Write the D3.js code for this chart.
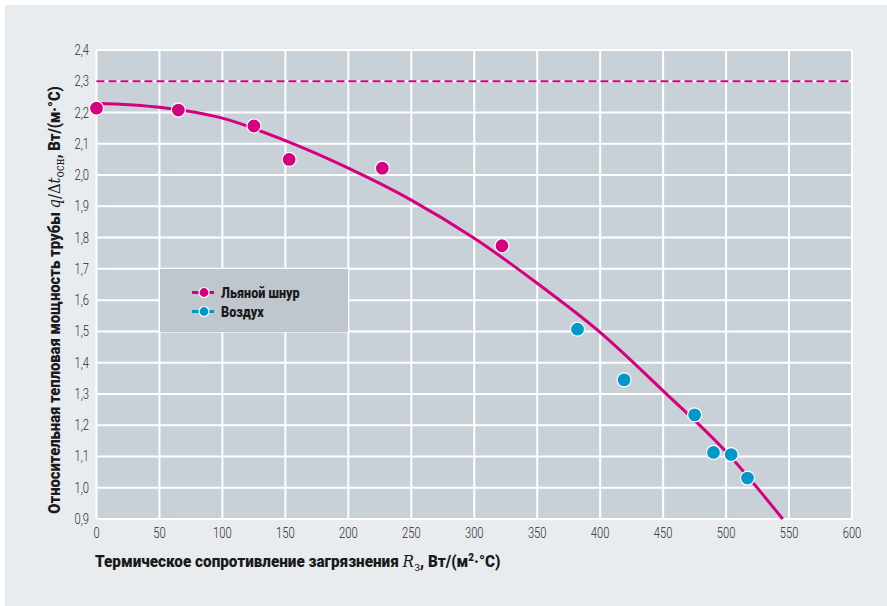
<!DOCTYPE html>
<html>
<head>
<meta charset="utf-8">
<script src="https://cdn.jsdelivr.net/npm/d3@7"></script>
<style>
  body { margin: 0; background: #fff; }
  .tick-label { font-family: Roboto, 'Noto Sans', sans-serif; font-weight: 300; font-size: 14px; fill: #2b2b2b; }
  .title { font-family: Roboto, 'Noto Sans', sans-serif; font-weight: 900; font-size: 17px; fill: #1a1a1a; }
  .legend-text { font-family: Roboto, 'Noto Sans', sans-serif; font-weight: 900; font-size: 15px; fill: #1a1a1a; }
</style>
</head>
<body>
<div class="container"></div>
<script>
// measured points: flax cord (pink) and air (blue)
const linenX = [0, 65, 125, 153, 227, 322];
const linenY = [2.214, 2.208, 2.157, 2.05, 2.022, 1.774];
const airX = [382, 419, 475, 490, 504, 517];
const airY = [1.507, 1.345, 1.233, 1.113, 1.106, 1.031];

// trend curve
const curveX = [0, 50, 100, 150, 200, 250, 300, 350, 400, 450, 500, 545];
const curveY = [2.23, 2.217, 2.182, 2.11, 2.022, 1.92, 1.798, 1.654, 1.497, 1.31, 1.115, 0.9];

const limitY = 2.3;

const xTicks = [0, 50, 100, 150, 200, 250, 300, 350, 400, 450, 500, 550, 600];
const yTicks = [0.9, 1.0, 1.1, 1.2, 1.3, 1.4, 1.5, 1.6, 1.7, 1.8, 1.9, 2.0, 2.1, 2.2, 2.3, 2.4];

const legendNames = ['Льяной шнур', 'Воздух'];

const pink = '#d6007f';
const blue = '#0098c9';

const width = 887;
const height = 606;
const plot = { left: 96.5, right: 852, top: 50, bottom: 519 };
const squeeze = 0.8; // fake a condensed face

const svg = d3
  .select('.container')
  .append('svg')
  .attr('width', width)
  .attr('height', height);

svg
  .append('rect')
  .attr('x', 5)
  .attr('y', 5)
  .attr('width', width - 5)
  .attr('height', height - 5)
  .attr('fill', '#e8ecef');

const x = d3.scaleLinear().domain([0, 600]).range([plot.left, plot.right]);
const y = d3.scaleLinear().domain([0.9, 2.4]).range([plot.bottom, plot.top]);

// plot background
svg
  .append('rect')
  .attr('x', x(0))
  .attr('y', y(2.4))
  .attr('width', x(600) - x(0))
  .attr('height', y(0.9) - y(2.4))
  .attr('fill', '#c8d0d8');

// grid
const grid = svg.append('g').attr('class', 'grid');

grid
  .selectAll('.v')
  .data(xTicks)
  .enter()
  .append('line')
  .attr('x1', d => x(d))
  .attr('x2', d => x(d))
  .attr('y1', y(2.4))
  .attr('y2', y(0.9))
  .attr('stroke', '#fff')
  .attr('stroke-width', 2);

grid
  .selectAll('.h')
  .data(yTicks)
  .enter()
  .append('line')
  .attr('x1', x(0))
  .attr('x2', x(600))
  .attr('y1', d => y(d))
  .attr('y2', d => y(d))
  .attr('stroke', '#fff')
  .attr('stroke-width', 2);

// tick labels
svg
  .append('g')
  .selectAll('text')
  .data(xTicks)
  .enter()
  .append('text')
  .attr('class', 'tick-label')
  .attr('transform', d => `translate(${x(d)}, 538) scale(${squeeze}, 1)`)
  .attr('text-anchor', 'middle')
  .text(d => d);

svg
  .append('g')
  .selectAll('text')
  .data(yTicks)
  .enter()
  .append('text')
  .attr('class', 'tick-label')
  .attr('transform', d => `translate(89, ${y(d) + 5}) scale(${squeeze}, 1)`)
  .attr('text-anchor', 'end')
  .text(d => d3.format('.1f')(d).replace('.', ','));

// legend box
svg
  .append('rect')
  .attr('x', 160)
  .attr('y', 269)
  .attr('width', 188)
  .attr('height', 63)
  .attr('fill', '#bfc6cd');

// dashed limit line
svg
  .append('line')
  .attr('x1', x(0))
  .attr('x2', x(600))
  .attr('y1', y(limitY))
  .attr('y2', y(limitY))
  .attr('stroke', pink)
  .attr('stroke-width', 2)
  .attr('stroke-dasharray', '8,4');

// trend curve
const line = d3
  .line()
  .x(d => x(d[0]))
  .y(d => y(d[1]))
  .curve(d3.curveMonotoneX);

svg
  .append('path')
  .datum(curveX.map((d, i) => [d, curveY[i]]))
  .attr('d', line)
  .attr('fill', 'none')
  .attr('stroke', pink)
  .attr('stroke-width', 3);

// points
const drawPoints = (xs, ys, color) => {
  svg
    .append('g')
    .selectAll('circle')
    .data(xs.map((d, i) => [d, ys[i]]))
    .enter()
    .append('circle')
    .attr('cx', d => x(d[0]))
    .attr('cy', d => y(d[1]))
    .attr('r', 7)
    .attr('fill', color)
    .attr('stroke', '#fff')
    .attr('stroke-width', 1.2);
};

drawPoints(linenX, linenY, pink);
drawPoints(airX, airY, blue);

// legend items
const legend = svg
  .append('g')
  .selectAll('g')
  .data(legendNames)
  .enter()
  .append('g')
  .attr('transform', (d, i) => `translate(192, ${292.5 + i * 19})`);

legend
  .append('line')
  .attr('x1', 0)
  .attr('x2', 22)
  .attr('stroke', (d, i) => (i === 0 ? pink : blue))
  .attr('stroke-width', 3);

legend
  .append('circle')
  .attr('cx', 12)
  .attr('r', 5)
  .attr('fill', (d, i) => (i === 0 ? pink : blue))
  .attr('stroke', '#fff')
  .attr('stroke-width', 1.2);

legend
  .append('text')
  .attr('class', 'legend-text')
  .attr('transform', `translate(29, 5) scale(0.84, 1)`)
  .text(d => d);

// axis titles
const xTitle = svg
  .append('text')
  .attr('class', 'title')
  .attr('transform', `translate(95, 567) scale(0.9, 1)`);

xTitle.append('tspan').text('Термическое сопротивление загрязнения ');
xTitle
  .append('tspan')
  .attr('font-family', 'DejaVu Serif, serif')
  .attr('font-style', 'italic')
  .attr('font-weight', 'normal')
  .text('R');
xTitle
  .append('tspan')
  .attr('font-family', 'DejaVu Serif, serif')
  .attr('font-weight', 'normal')
  .attr('font-size', 12)
  .attr('dy', 4)
  .text('з');
xTitle.append('tspan').attr('dy', -4).text(', Вт/(м');
xTitle
  .append('tspan')
  .attr('font-size', 11)
  .attr('dy', -6)
  .text('2');
xTitle.append('tspan').attr('dy', 6).text('·°С)');

const yTitle = svg
  .append('text')
  .attr('class', 'title')
  .attr('transform', 'translate(60, 300) rotate(-90) scale(0.87, 1)')
  .attr('text-anchor', 'middle');

yTitle.append('tspan').text('Относительная тепловая мощность трубы ');
yTitle
  .append('tspan')
  .attr('font-family', 'DejaVu Serif, serif')
  .attr('font-style', 'italic')
  .attr('font-weight', 'normal')
  .text('q');
yTitle
  .append('tspan')
  .attr('font-family', 'DejaVu Serif, serif')
  .attr('font-weight', 'normal')
  .text('/Δ');
yTitle
  .append('tspan')
  .attr('font-family', 'DejaVu Serif, serif')
  .attr('font-style', 'italic')
  .attr('font-weight', 'normal')
  .text('t');
yTitle
  .append('tspan')
  .attr('font-family', 'DejaVu Serif, serif')
  .attr('font-weight', 'normal')
  .attr('font-size', 12)
  .attr('dy', 4)
  .text('осн');
yTitle.append('tspan').attr('dy', -4).text(', Вт/(м·°С)');
</script>
</body>
</html>
